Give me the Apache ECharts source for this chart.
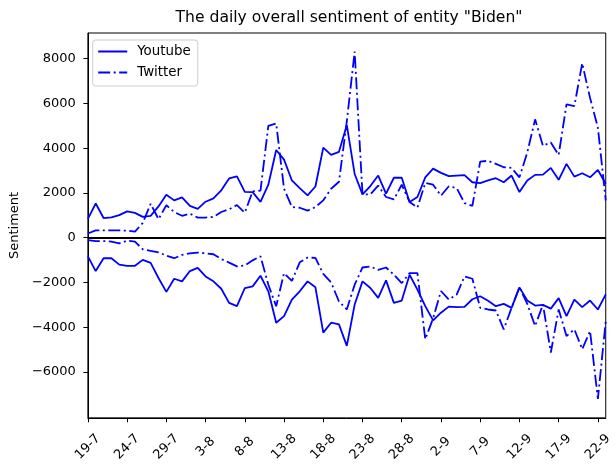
<!DOCTYPE html>
<html><head><meta charset="utf-8">
<script src="https://cdn.jsdelivr.net/npm/echarts@6/dist/echarts.min.js"></script>
<style>html,body{margin:0;padding:0;background:#fff}#c{width:615px;height:464px}</style>
</head><body><div id="c"></div>
<script>
const dates = ['19-7','20-7','21-7','22-7','23-7','24-7','25-7','26-7','27-7','28-7','29-7','30-7','31-7',
'1-8','2-8','3-8','4-8','5-8','6-8','7-8','8-8','9-8','10-8','11-8','12-8','13-8','14-8','15-8','16-8','17-8','18-8','19-8','20-8','21-8','22-8','23-8','24-8','25-8','26-8','27-8','28-8','29-8','30-8','31-8',
'1-9','2-9','3-9','4-9','5-9','6-9','7-9','8-9','9-9','10-9','11-9','12-9','13-9','14-9','15-9','16-9','17-9','18-9','19-9','20-9','21-9','22-9','23-9'];

const youtubePos = [840,1530,880,910,1010,1180,1110,930,980,1400,1920,1670,1800,1420,1290,1610,1760,2120,2650,2740,
2050,2040,1600,2370,3920,3490,2560,2220,1890,2290,4030,3700,3840,5030,2850,1940,2310,2780,1970,2680,
2680,1600,1820,2700,3090,2900,2750,2780,2800,2480,2440,2560,2660,2480,2780,2040,2560,2810,2820,3120,
2590,3300,2730,2880,2700,3030,2410];

const twitterPos = [190,325,325,325,325,320,270,660,1520,830,1450,1150,980,1080,900,900,930,1150,1270,1460,
1120,2070,2110,5000,5110,2190,1370,1340,1210,1370,1670,2190,2500,5200,8320,1940,1940,2330,1820,1710,
2370,1600,1350,2450,2370,1880,2300,2220,1550,1420,3400,3440,3300,3150,3120,2700,3810,5290,4110,4260,
3700,5960,5880,7800,6250,4920,1670];

const youtubeNeg = [-830,-1490,-916,-916,-1200,-1256,-1256,-990,-1120,-1800,-2420,-1833,-1951,-1490,-1345,-1729,-1950,-2280,-2912,-3059,
-2247,-2173,-1700,-2394,-3798,-3503,-2764,-2394,-1951,-2217,-4242,-3798,-3872,-4833,-2986,-1951,-2247,-2690,-1907,-2912,
-2808,-1655,-2320,-3059,-3695,-3350,-3080,-3104,-3090,-2750,-2616,-2820,-3059,-2956,-3133,-2220,-2800,-3030,-3000,-3170,
-2700,-3503,-2764,-3104,-2808,-3207,-2530];

const twitterNeg = [-103,-148,-148,-177,-251,-133,-177,-517,-591,-650,-798,-916,-768,-695,-665,-695,-739,-950,-1110,-1280,
-1240,-1010,-830,-2100,-3059,-1582,-1930,-1100,-887,-900,-1620,-2000,-2850,-3207,-2099,-1330,-1286,-1434,-1330,-1655,
-2025,-1582,-1582,-4537,-3600,-2380,-2764,-2542,-1729,-1833,-3133,-3207,-3252,-4094,-3133,-2217,-2956,-3947,-2986,-5129,
-3207,-4390,-4094,-4981,-4168,-7198,-3725];

const yTicks = [-6000,-4000,-2000,0,2000,4000,6000,8000];

const FONT = 'DejaVu Sans';
const dashDot = [12, 3.5, 2, 3.5];
function mk(name, data, dashed, extra) {
  return Object.assign({
    name: name, type: 'line', data: data, symbol: 'none', showSymbol: false,
    lineStyle: {color: '#0000ff', width: 1.8, type: dashed ? dashDot : 'solid'},
    itemStyle: {color: '#0000ff'}, animation: false, silent: true, z: 3
  }, extra || {});
}

const chart = echarts.init(document.getElementById('c'), null, {renderer: 'canvas'});
chart.setOption({
  animation: false,
  backgroundColor: '#fff',
  title: {
    text: 'The daily overall sentiment of entity "Biden"',
    left: 349, top: 10, padding: 0, textAlign: 'center',
    textStyle: {fontFamily: FONT, fontSize: 15.6, fontWeight: 'normal', color: '#000'}
  },
  legend: {
    orient: 'vertical', left: 92.7, top: 40, padding: [5, 7, 7, 4.5],
    itemWidth: 29, itemHeight: 13, itemGap: 8,
    backgroundColor: 'rgba(255,255,255,0.8)', borderColor: '#cccccc', borderWidth: 1, borderRadius: 3,
    itemStyle: {opacity: 0, borderWidth: 0},
    textStyle: {fontFamily: FONT, fontSize: 13.4, color: '#000', padding: [0, 0, 0, 5]},
    data: ['Youtube', 'Twitter']
  },
  grid: {left: 85, right: 2, top: 33, bottom: 44.5, show: true, borderColor: '#000', borderWidth: 1, backgroundColor: 'transparent'},
  xAxis: {
    type: 'category', data: dates, boundaryGap: false,
    axisLine: {onZero: false, lineStyle: {color: '#000', width: 1}},
    axisTick: {interval: 4, length: 4.5, lineStyle: {color: '#000'}},
    axisLabel: {interval: 4, rotate: 45, align: 'center', verticalAlign: 'middle', margin: 29,
      color: '#000', fontSize: 13, fontFamily: FONT},
    splitLine: {show: false}
  },
  yAxis: {
    type: 'value', min: -8050, max: 9150,
    name: 'Sentiment', nameLocation: 'middle', nameRotate: 90, nameGap: 62,
    nameTextStyle: {fontFamily: FONT, fontSize: 13, color: '#000'},
    axisLine: {show: true, lineStyle: {color: '#000', width: 1}},
    axisTick: {show: true, length: 4.5, customValues: yTicks, lineStyle: {color: '#000'}},
    axisLabel: {customValues: yTicks, margin: 12, color: '#000', fontSize: 13, fontFamily: FONT,
      formatter: v => v < 0 ? '\u2212' + Math.abs(v) : String(v)},
    splitLine: {show: false}
  },
  series: [
    mk('Youtube', youtubePos, false, {
      markLine: {silent: true, symbol: 'none', label: {show: false}, animation: false,
        lineStyle: {color: '#000', width: 1.8, type: 'solid'}, data: [{yAxis: 0}]}
    }),
    mk('Twitter', twitterPos, true),
    mk('Youtube', youtubeNeg, false),
    mk('Twitter', twitterNeg, true)
  ]
});
</script></body></html>
